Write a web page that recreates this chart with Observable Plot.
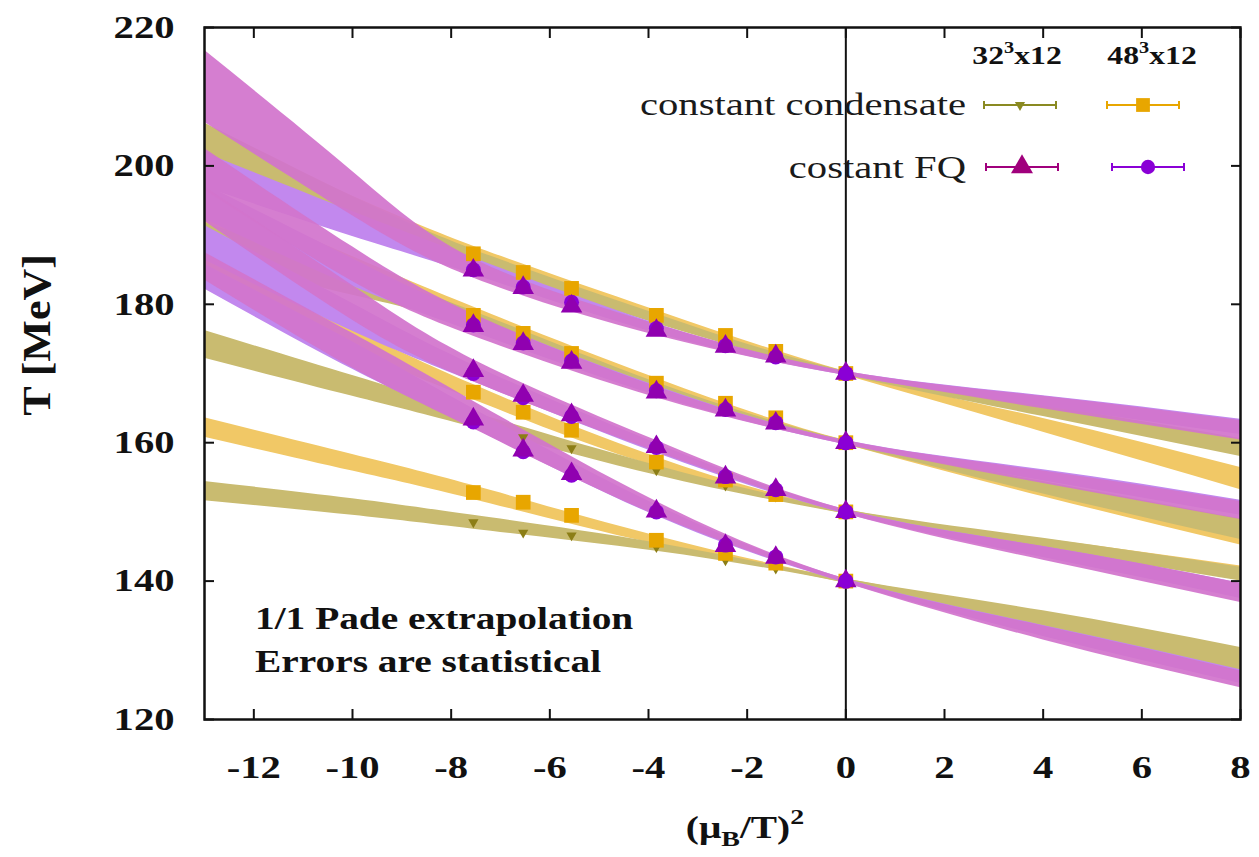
<!DOCTYPE html>
<html><head><meta charset="utf-8">
<script src="https://cdn.jsdelivr.net/npm/d3@7"></script>
<script src="https://cdn.jsdelivr.net/npm/@observablehq/plot@0.6"></script>
<style>
body{margin:0;background:#fff}
#wrap{position:relative;width:1259px;height:857px}
#wrap svg{position:absolute;left:0;top:0}
</style>
</head><body><div id="wrap"></div>
<script>
// ---------- data ----------
const t0Levels = [170, 160, 150, 140];
const xTicks = [-12, -10, -8, -6, -4, -2, 0, 2, 4, 6, 8];
const yTicks = [120, 140, 160, 180, 200, 220];

// band nodes (x) and per-T0 centre / half-width of each error band
const bandX = [-13, -10, -7.55, -3.84, 0, 4, 8];
const cond32Center = [
  [204.0, 193.9, 186.8, 177.9, 170, 164.6, 159.3],
  [189.2, 183.2, 177.8, 168.0, 160, 153.5, 147.5],
  [174.2, 168.2, 163.3, 156.0, 150, 145.5, 141.0],
  [153.0, 150.7, 148.5, 144.9, 140, 134.5, 128.5]];
const cond32Half = [
  [2.2, 1.7, 1.1, 0.7, 0.3, 0.8, 1.3],
  [2.6, 1.9, 1.2, 0.7, 0.3, 0.9, 1.5],
  [2.0, 1.5, 1.1, 0.7, 0.3, 0.7, 1.0],
  [1.4, 1.2, 1.0, 0.6, 0.3, 1.2, 1.9]];
const cond48Center = [
  [202.6, 193.9, 187.3, 178.4, 170, 162.5, 154.8],
  [193.4, 185.0, 178.4, 168.6, 160, 153.2, 146.8],
  [184.8, 174.9, 167.3, 157.2, 150, 145.4, 141.2],
  [162.2, 157.1, 152.8, 145.9, 140, 134.2, 128.0]];
const cond48Half = [
  [2.2, 1.7, 1.1, 0.7, 0.3, 1.0, 1.6],
  [2.6, 1.9, 1.2, 0.7, 0.3, 1.0, 1.6],
  [1.8, 1.5, 1.1, 0.7, 0.3, 0.7, 1.0],
  [1.4, 1.2, 1.0, 0.6, 0.3, 1.2, 1.9]];
const fq32Center = [
  [211.5, 196.0, 185.2, 176.3, 170, 165.8, 161.8],
  [199.5, 185.8, 177.0, 167.3, 160, 155.0, 150.2],
  [194.5, 180.2, 170.4, 159.5, 150, 144.0, 138.3],
  [185.5, 173.3, 164.0, 150.5, 140, 132.5, 125.8]];
const fq32Half = [
  [5.2, 3.2, 1.4, 0.8, 0.3, 0.9, 1.4],
  [3.0, 2.5, 1.6, 0.8, 0.3, 0.9, 1.3],
  [2.5, 2.5, 1.6, 0.8, 0.3, 1.0, 1.4],
  [2.0, 2.5, 2.0, 1.0, 0.3, 1.0, 1.2]];
const fq48Center = [
  [199.4, 191.6, 185.5, 176.5, 170, 166.0, 162.3],
  [194.8, 184.6, 177.2, 167.5, 160, 155.3, 150.6],
  [188.9, 178.1, 170.0, 159.2, 150, 144.2, 138.6],
  [184.0, 172.6, 163.5, 150.2, 140, 132.8, 126.2]];
const fq48Half = [
  [2.5, 1.8, 1.2, 0.7, 0.3, 0.8, 1.1],
  [2.5, 2.0, 1.2, 0.7, 0.3, 0.8, 1.1],
  [2.5, 2.0, 1.2, 0.7, 0.3, 0.8, 1.1],
  [1.8, 2.0, 1.4, 0.8, 0.3, 0.8, 1.0]];

// data points
const pointX = [-7.55, -6.54, -5.56, -3.84, -2.44, -1.42, 0];
const cond32T = [
  [186.6, 184.0, 181.6, 177.8, 175.0, 172.8, 170],
  [177.6, 175.0, 172.4, 168.0, 165.3, 163.2, 160],
  [163.3, 160.8, 159.2, 156.0, 153.8, 152.2, 150],
  [148.5, 147.0, 146.6, 144.9, 143.0, 141.8, 140]];
const cond48T = [
  [187.3, 184.6, 182.3, 178.4, 175.5, 173.2, 170],
  [178.4, 175.8, 172.9, 168.6, 165.7, 163.6, 160],
  [167.3, 164.4, 161.8, 157.2, 154.6, 152.5, 150],
  [152.8, 151.4, 149.5, 145.9, 144.0, 142.6, 140]];
const fq32T = [
  [184.9, 182.4, 179.7, 176.2, 173.9, 172.5, 170],
  [176.9, 174.3, 171.6, 167.3, 164.7, 162.8, 160],
  [170.4, 166.8, 164.0, 159.4, 155.0, 153.2, 150],
  [163.4, 158.9, 155.5, 150.1, 145.1, 143.4, 140]];
const fq48T = [
  [185.0, 182.5, 180.3, 176.5, 174.0, 172.4, 170],
  [177.0, 174.4, 171.8, 167.5, 164.8, 162.9, 160],
  [170.0, 166.5, 163.8, 159.3, 155.1, 153.2, 150],
  [163.0, 158.7, 155.3, 150.0, 145.2, 143.5, 140]];

// ---------- tables ----------
function bandRows(centers, halves) {
  const rows = [];
  centers.forEach((c, i) => c.forEach((v, j) =>
    rows.push({t0: t0Levels[i], x: bandX[j], lo: v - halves[i][j], hi: v + halves[i][j]})));
  return rows;
}
function pointRows(values) {
  const rows = [];
  values.forEach((vals, i) => vals.forEach((v, j) => rows.push({t0: t0Levels[i], x: pointX[j], y: v})));
  return rows;
}

const C = {
  oliveBand: "#c9bb70", orangeBand: "#f1c866", pinkBand: "#d274cc", violetBand: "#c288ee",
  olivePt: "#8c7e16", orangePt: "#e8a600", triPt: "#9000b0", circPt: "#8a00d6"
};

const font = "'Liberation Serif', 'DejaVu Serif', serif";
const stretch = 1.27; // the reference text is drawn horizontally stretched

const fq48Rows = pointRows(fq48T);

const plot = Plot.plot({
  width: 1259, height: 857,
  marginLeft: 204, marginRight: 19, marginTop: 27, marginBottom: 138,
  x: {domain: [-13, 8]},
  y: {domain: [120, 220]},
  style: {fontFamily: font, fontSize: "32px", fontWeight: "bold", color: "#111", background: "white"},
  marks: [
    Plot.areaY(bandRows(cond48Center, cond48Half), {x: "x", y1: "lo", y2: "hi", z: "t0", fill: C.orangeBand, curve: "natural", clip: true}),
    Plot.areaY(bandRows(cond32Center, cond32Half), {x: "x", y1: "lo", y2: "hi", z: "t0", fill: C.oliveBand, curve: "natural", clip: true}),
    Plot.areaY(bandRows(fq48Center, fq48Half), {x: "x", y1: "lo", y2: "hi", z: "t0", fill: C.violetBand, curve: "natural", clip: true}),
    Plot.areaY(bandRows(fq32Center, fq32Half), {x: "x", y1: "lo", y2: "hi", z: "t0", fill: C.pinkBand, fillOpacity: 0.93, curve: "natural", clip: true}),
    Plot.ruleX([0], {stroke: "#111", strokeWidth: 2}),
    Plot.dot(pointRows(cond32T), {x: "x", y: "y", symbol: "triangle", rotate: 180, r: 3.8, fill: C.olivePt}),
    Plot.dot(pointRows(cond48T), {x: "x", y: "y", symbol: "square", r: 8.3, fill: C.orangePt}),
    Plot.dot(fq48Rows, {x: "x", y: "y", symbol: "circle", r: 7.5, fill: C.circPt}),
    Plot.dot(pointRows(fq32T), {x: "x", y: "y", symbol: "triangle", r: 8, fill: C.triPt}),
    Plot.dot(fq48Rows.filter(d => d.x === 0), {x: "x", y: "y", symbol: "circle", r: 7.5, fill: C.circPt}),
    // inward ticks on all four sides
    Plot.axisX(xTicks, {anchor: "bottom", tickSize: -10, fill: "none", strokeWidth: 2}),
    Plot.axisX(xTicks, {anchor: "top", tickSize: -10, fill: "none", strokeWidth: 2}),
    Plot.axisY(yTicks, {anchor: "left", tickSize: -10, fill: "none", strokeWidth: 2}),
    Plot.axisY(yTicks, {anchor: "right", tickSize: -10, fill: "none", strokeWidth: 2}),
    // tick labels
    Plot.axisX(xTicks, {anchor: "bottom", tickSize: 0, tickPadding: 36, stroke: "none", label: null, tickFormat: d => String(d)}),
    Plot.axisY(yTicks, {anchor: "left", tickSize: 0, tickPadding: 30, stroke: "none", label: null, tickFormat: d => String(d)}),
    Plot.frame({stroke: "#111", strokeWidth: 2.5})
  ]
});
document.getElementById("wrap").appendChild(plot);
// stretch the tick labels horizontally like the reference
d3.select(plot).selectAll('g[aria-label="x-axis tick label"] text, g[aria-label="y-axis tick label"] text')
  .attr("transform", function() { return (this.getAttribute("transform") || "") + ` scale(${stretch},1)`; });

// ---------- overlay: axis titles, notes and key ----------
const ov = d3.select("#wrap").append("svg")
  .attr("width", 1259).attr("height", 857)
  .style("font-family", font).style("pointer-events", "none");

function stext(x, y, anchor, size, weight) {
  return ov.append("text").attr("transform", `translate(${x},${y}) scale(${stretch},1)`)
    .attr("text-anchor", anchor).attr("font-size", size).attr("font-weight", weight).attr("fill", "#111");
}

ov.append("text").attr("transform", "translate(50,335) rotate(-90) scale(1.1,1)")
  .attr("text-anchor", "middle").attr("font-size", 40).attr("font-weight", "bold").attr("fill", "#111")
  .text("T [MeV]");
const xl = stext(745, 838, "middle", 31, "bold");
xl.append("tspan").text("(μ");
xl.append("tspan").attr("font-size", 22).attr("dy", 8).text("B");
xl.append("tspan").attr("dy", -8).text("/T)");
xl.append("tspan").attr("font-size", 22).attr("dy", -14).text("2");

stext(255, 629, "start", 31, "bold").text("1/1 Pade extrapolation");
stext(255, 672, "start", 31, "bold").text("Errors are statistical");

const keyCols = [{label: "32", x: 1017}, {label: "48", x: 1152}];
keyCols.forEach(k => {
  const t = stext(k.x, 64, "middle", 25, "bold");
  t.append("tspan").text(k.label);
  t.append("tspan").attr("font-size", 16).attr("dy", -11).text("3");
  t.append("tspan").attr("dy", 11).text("x12");
});
stext(966, 115, "end", 32, "normal").attr("fill", "#1a1a1a").text("constant condensate");
stext(966, 178, "end", 32, "normal").attr("fill", "#1a1a1a").text("costant FQ");

function keySample(cx, cy, color, symbol, size, rotate) {
  ov.append("line").attr("x1", cx - 36).attr("x2", cx + 36).attr("y1", cy).attr("y2", cy)
    .attr("stroke", color).attr("stroke-width", 2);
  [cx - 36, cx + 36].forEach(e => ov.append("line").attr("x1", e).attr("x2", e)
    .attr("y1", cy - 4).attr("y2", cy + 4).attr("stroke", color).attr("stroke-width", 2));
  ov.append("path").attr("d", d3.symbol(symbol, size)())
    .attr("transform", `translate(${cx},${cy}) rotate(${rotate || 0})`).attr("fill", color);
}
keySample(1020, 105, "#8a8a22", d3.symbolTriangle, 45, 180);
keySample(1143, 105, C.orangePt, d3.symbolSquare, 190, 0);
keySample(1022, 167, "#a0007c", d3.symbolTriangle, 210, 0);
keySample(1148, 167, C.circPt, d3.symbolCircle, 160, 0);
</script>
</body></html>
